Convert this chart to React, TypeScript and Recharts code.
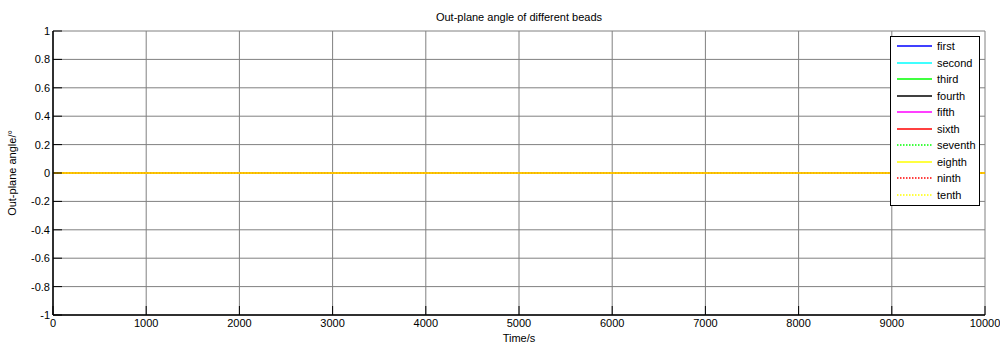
import React from 'react';
import { LineChart, Line, XAxis, YAxis, CartesianGrid } from 'recharts';

const times = [0, 1000, 2000, 3000, 4000, 5000, 6000, 7000, 8000, 9000, 10000];
const first = [0, 0, 0, 0, 0, 0, 0, 0, 0, 0, 0];
const second = [0, 0, 0, 0, 0, 0, 0, 0, 0, 0, 0];
const third = [0, 0, 0, 0, 0, 0, 0, 0, 0, 0, 0];
const fourth = [0, 0, 0, 0, 0, 0, 0, 0, 0, 0, 0];
const fifth = [0, 0, 0, 0, 0, 0, 0, 0, 0, 0, 0];
const sixth = [0, 0, 0, 0, 0, 0, 0, 0, 0, 0, 0];
const seventh = [0, 0, 0, 0, 0, 0, 0, 0, 0, 0, 0];
const eighth = [0, 0, 0, 0, 0, 0, 0, 0, 0, 0, 0];
const ninth = [0, 0, 0, 0, 0, 0, 0, 0, 0, 0, 0];
const tenth = [0, 0, 0, 0, 0, 0, 0, 0, 0, 0, 0];

const seriesNames = ['first', 'second', 'third', 'fourth', 'fifth', 'sixth', 'seventh', 'eighth', 'ninth', 'tenth'];
const seriesValues = [first, second, third, fourth, fifth, sixth, seventh, eighth, ninth, tenth];
const seriesColors = ['#0000ff', '#00ffff', '#00ff00', '#000000', '#ff00ff', '#ff0000', '#00ff00', '#ffff00', '#ff0000', '#ffff00'];
const seriesDotted = [false, false, false, false, false, false, true, false, true, true];

const xTicks = [0, 1000, 2000, 3000, 4000, 5000, 6000, 7000, 8000, 9000, 10000];
const yTicks = [-1, -0.8, -0.6, -0.4, -0.2, 0, 0.2, 0.4, 0.6, 0.8, 1];

const data = times.map((t, i) => {
  const row: Record<string, number> = { t };
  seriesNames.forEach((n, k) => {
    row[n] = seriesValues[k][i];
  });
  return row;
});

const FONT = '"Liberation Sans", Arial, sans-serif';

const LegendBox = () => (
  <div
    style={{
      position: 'absolute',
      left: 890,
      top: 36,
      border: '1px solid #000',
      background: '#fff',
      width: 90,
      padding: '1px 0 2px 0',
      fontFamily: FONT,
      fontSize: 11,
      boxSizing: 'border-box',
    }}
  >
    {seriesNames.map((n, k) => (
      <div key={n} style={{ display: 'flex', alignItems: 'center', height: 16.5, lineHeight: '16.5px' }}>
        <svg width={46} height={10} style={{ display: 'block' }}>
          <line
            x1={6}
            x2={41}
            y1={5}
            y2={5}
            stroke={seriesColors[k]}
            strokeWidth={1.5}
            strokeDasharray={seriesDotted[k] ? '1.5 1.5' : undefined}
          />
        </svg>
        <span style={{ color: '#000' }}>{n}</span>
      </div>
    ))}
  </div>
);

const emptyTick = () => <g />;

export default function App() {
  return (
    <div style={{ position: 'fixed', left: 0, top: 0, width: 1000, height: 345, background: '#fff' }}>
      <div
        style={{
          position: 'absolute',
          left: 53,
          width: 932,
          top: 11,
          textAlign: 'center',
          fontFamily: FONT,
          fontSize: 11,
          color: '#000',
        }}
      >
        Out-plane angle of different beads
      </div>
      <LineChart
        width={1000}
        height={345}
        data={data}
        margin={{ top: 31, right: 15, bottom: 0, left: 0 }}
        style={{ fontFamily: FONT }}
      >
        <CartesianGrid stroke="#808080" strokeWidth={1} horizontalValues={yTicks} verticalValues={xTicks} />
        <XAxis
          dataKey="t"
          type="number"
          domain={[0, 10000]}
          ticks={xTicks}
          interval={0}
          height={30}
          stroke="#000"
          tickSize={-9}
          tickMargin={13}
          tick={{ fill: '#000', fontSize: 11, fontFamily: FONT }}
          axisLine={{ stroke: '#000', strokeWidth: 1.5 }}
          label={{ value: 'Time/s', position: 'insideBottom', offset: 3, fill: '#000', fontSize: 11, fontFamily: FONT }}
        />
        <XAxis
          xAxisId="top"
          orientation="top"
          dataKey="t"
          type="number"
          domain={[0, 10000]}
          ticks={xTicks}
          interval={0}
          height={0}
          stroke="#000"
          tickSize={-9}
          tick={emptyTick}
          axisLine={{ stroke: '#000', strokeWidth: 1.5 }}
        />
        <YAxis
          type="number"
          domain={[-1, 1]}
          ticks={yTicks}
          interval={0}
          width={53}
          stroke="#000"
          tickSize={-9}
          tickMargin={12}
          tick={{ fill: '#000', fontSize: 11, fontFamily: FONT }}
          tickFormatter={(v: number) => String(v)}
          axisLine={{ stroke: '#000', strokeWidth: 1.5 }}
          label={{
            value: 'Out-plane angle/°',
            angle: -90,
            position: 'insideLeft',
            offset: 12,
            fill: '#000',
            fontSize: 11,
            fontFamily: FONT,
            style: { textAnchor: 'middle' },
          }}
        />
        <YAxis
          yAxisId="right"
          orientation="right"
          type="number"
          domain={[-1, 1]}
          ticks={yTicks}
          interval={0}
          width={0}
          stroke="#000"
          tickSize={-9}
          tick={emptyTick}
          axisLine={{ stroke: '#000', strokeWidth: 1.5 }}
        />
        {seriesNames.map((n, k) => (
          <Line
            key={n}
            dataKey={n}
            name={n}
            stroke={seriesColors[k]}
            strokeWidth={1.5}
            strokeDasharray={seriesDotted[k] ? '1.5 1.5' : undefined}
            dot={false}
            activeDot={false}
            isAnimationActive={false}
          />
        ))}
      </LineChart>
      <LegendBox />
    </div>
  );
}
